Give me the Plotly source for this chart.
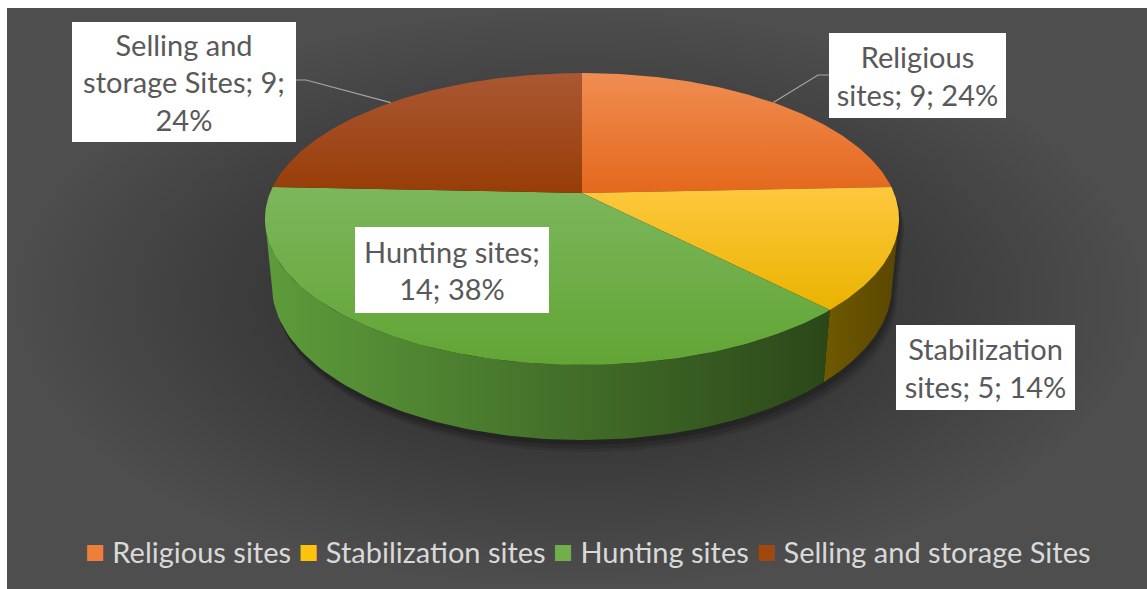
import textwrap
import numpy as np
import plotly.graph_objects as go

# ---- data ----
categories = ["Religious sites", "Stabilization sites", "Hunting sites", "Selling and storage Sites"]
counts = [9, 5, 14, 9]
label_wrap = [13, 13, 14, 17]

# ---- styling ----
top_grad = [("#f08d52", "#e4681d"), ("#fec83e", "#eab300"), ("#7cb75c", "#62a535"), ("#aa5733", "#983d07")]
wall_grad = [("#7a4a1c", "#6a3a10"), ("#6f5900", "#5a4700"), ("#5d9c3b", "#2b4719"), ("#6e3108", "#5c2806")]
legend_colors = ["#ee7f3a", "#fdc20d", "#72ae4a", "#a2480f"]
label_boxes = [  # centre x, centre y, width, height (pixels)
    (917.5, 75.5, 177, 85),
    (985.5, 367.5, 179, 85),
    (452.0, 270.0, 194, 86),
    (184.0, 82.0, 224, 120),
]
leader_anchor = {0: [(829, 75), (818, 75)], 3: [(296, 80), (306, 80)]}

W, H = 1147, 589
CX, CY, S = 582.0, 193.0, 312.0
SIN_P, COS_P = 0.453, 0.8915
K = 0.1997
DEPTH = 0.241
VIS_A, VIS_B = 100.3, 259.7


def project(theta_deg, h=0.0):
    th = np.radians(np.asarray(theta_deg, dtype=float))
    X, d = np.sin(th), np.cos(th)
    f = 1 + K * (d * COS_P - h * SIN_P)
    return CX + S * X / f, CY - S * (d * SIN_P + h * COS_P) / f


total = sum(counts)
pcts = [round(100 * c / total) for c in counts]
bounds = np.concatenate([[0], np.cumsum(counts) / total * 360])

fig = go.Figure()

# chart area with a radial gradient (light centre, dark corners)
fig.add_trace(go.Scatter(
    x=[7, W, W, 7, 7], y=[8, 8, H, H, 8], mode="lines", fill="toself",
    line=dict(width=0), hoverinfo="skip", showlegend=False,
    fillgradient=dict(type="radial", colorscale=[[0, "#242424"], [0.45, "#363636"], [1, "#4e4e4e"]]),
))

# soft shadow below the disc
for dx, dy, a in [(10, 12, 0.10), (7, 9, 0.12), (4, 5, 0.15)]:
    ta = np.linspace(VIS_B, VIS_A + 360, 120)
    tb = np.linspace(VIS_A, VIS_B, 120)
    xa, ya = project(ta, 0)
    xb, yb = project(tb, -DEPTH)
    xs = np.concatenate([xa, xb, xa[:1]]) + dx * 0.5
    ys = np.concatenate([ya, yb, ya[:1]]) + dy
    fig.add_trace(go.Scatter(x=xs, y=ys, mode="lines", fill="toself", line=dict(width=0),
                             fillcolor=f"rgba(0,0,0,{a})", hoverinfo="skip", showlegend=False))

# front walls
for i in range(len(counts)):
    a, b = max(bounds[i], VIS_A), min(bounds[i + 1], VIS_B)
    if b <= a:
        continue
    t = np.linspace(a, b, 80)
    xt, yt = project(t, 0)
    xb, yb = project(t[::-1], -DEPTH)
    fig.add_trace(go.Scatter(
        x=np.concatenate([xt, xb, xt[:1]]), y=np.concatenate([yt, yb, yt[:1]]),
        mode="lines", fill="toself", line=dict(width=0), hoverinfo="skip", showlegend=False,
        fillgradient=dict(type="horizontal", colorscale=[[0, wall_grad[i][0]], [1, wall_grad[i][1]]]),
    ))

# top faces (lighter towards the far edge)
for i in range(len(counts)):
    t = np.linspace(bounds[i], bounds[i + 1], 120)
    xt, yt = project(t, 0)
    xs = np.concatenate([[CX], xt, [CX]])
    ys = np.concatenate([[CY], yt, [CY]])
    fig.add_trace(go.Scatter(
        x=xs, y=ys, mode="lines", fill="toself", line=dict(width=0), hoverinfo="skip",
        showlegend=False,
        fillgradient=dict(type="vertical", colorscale=[[0, top_grad[i][1]], [1, top_grad[i][0]]]),
    ))

# leader lines
for i, pts in leader_anchor.items():
    mx, my = project((bounds[i] + bounds[i + 1]) / 2, 0)
    fig.add_trace(go.Scatter(
        x=[p[0] for p in pts] + [float(mx)], y=[p[1] for p in pts] + [float(my)],
        mode="lines", line=dict(color="#a6a6a6", width=1.2), hoverinfo="skip", showlegend=False,
    ))

# data labels
for i, name in enumerate(categories):
    text = f"{name}; {counts[i]}; {pcts[i]}%"
    lines = textwrap.wrap(text, width=label_wrap[i])
    cx, cy, bw, bh = label_boxes[i]
    fig.add_annotation(
        x=cx, y=cy, xref="x", yref="y", text="<br>".join(lines), showarrow=False,
        width=bw, height=bh, bgcolor="#ffffff", borderwidth=0, borderpad=0,
        font=dict(family="Lato", size=29, color="#595959"), align="center", valign="middle",
    )

# legend
legend_html = " ".join(
    f"<span style='color:{c};font-size:33px'>■</span> {n}" for c, n in zip(legend_colors, categories)
)
fig.add_annotation(
    x=588, y=550, xref="x", yref="y", text=legend_html, showarrow=False,
    font=dict(family="Lato", size=29, color="#d9d9d9"),
)

fig.update_layout(
    width=W, height=H, margin=dict(l=0, r=0, t=0, b=0),
    paper_bgcolor="#ffffff", plot_bgcolor="#ffffff",
    xaxis=dict(range=[0, W], visible=False, fixedrange=True),
    yaxis=dict(range=[H, 0], visible=False, fixedrange=True),
)

fig.write_html("out.html")
